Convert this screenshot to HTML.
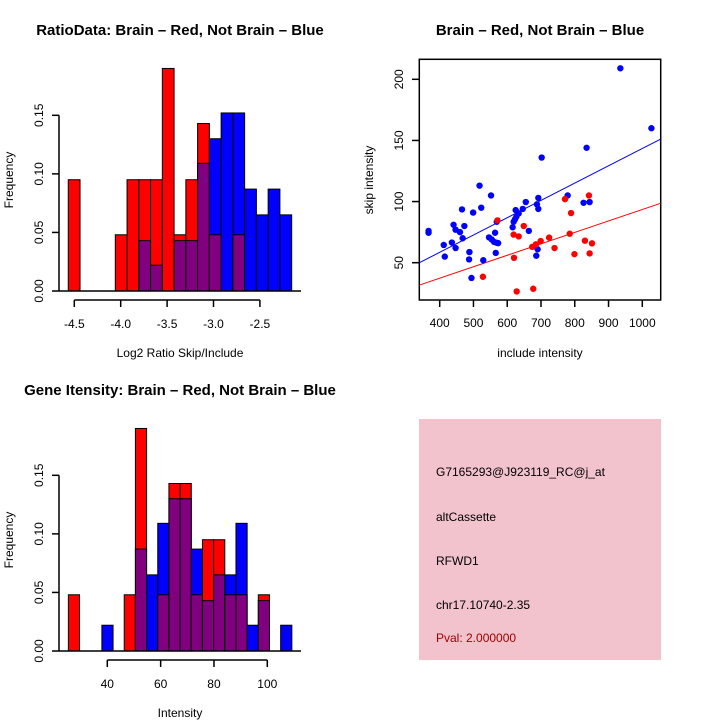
<!DOCTYPE html>
<html><head><meta charset="utf-8">
<style>
html,body{margin:0;padding:0;background:#fff;}
svg{display:block;font-family:"Liberation Sans",sans-serif;}
</style></head>
<body>
<svg id="s" width="720" height="720" viewBox="0 0 720 720">
<rect x="0" y="0" width="720" height="720" fill="#fff"/>
<text x="180" y="35" text-anchor="middle" font-size="15" font-weight="bold">RatioData: Brain – Red, Not Brain – Blue</text>
<text x="540" y="35" text-anchor="middle" font-size="15" font-weight="bold">Brain – Red, Not Brain – Blue</text>
<text x="180" y="395" text-anchor="middle" font-size="15" font-weight="bold">Gene Itensity: Brain – Red, Not Brain – Blue</text>
<text x="180" y="357" text-anchor="middle" font-size="12">Log2 Ratio Skip/Include</text>
<text transform="translate(13,180) rotate(-90)" text-anchor="middle" font-size="12">Frequency</text>
<text x="540" y="357" text-anchor="middle" font-size="12">include intensity</text>
<text transform="translate(373,180) rotate(-90)" text-anchor="middle" font-size="12">skip intensity</text>
<text x="180" y="717" text-anchor="middle" font-size="12">Intensity</text>
<text transform="translate(13,540) rotate(-90)" text-anchor="middle" font-size="12">Frequency</text>
<g>
<rect x="419" y="419" width="242" height="241" fill="#f2c2cd"/>
<text x="436" y="476" font-size="12">G7165293@J923119_RC@j_at</text>
<text x="436" y="521" font-size="12">altCassette</text>
<text x="436" y="565" font-size="12">RFWD1</text>
<text x="436" y="609" font-size="12">chr17.10740-2.35</text>
<text x="436" y="642" font-size="12" fill="#a00000">Pval: 2.000000</text>
</g>
</svg>
<script>
// ---- Ratio histogram data ----
const ratioBinStart = -4.565;
const ratioBinWidth = 0.1267;
const ratioRed = [0.095,0,0,0,0.048,0.095,0.095,0.095,0.19,0.048,0.095,0.143,0.048,0,0.048,0,0,0,0];
const ratioBlue = [0,0,0,0,0,0,0.043,0.022,0,0.043,0.043,0.109,0.130,0.152,0.152,0.087,0.065,0.087,0.065];
const ratioXTicks = [-4.5,-4.0,-3.5,-3.0,-2.5];
const ratioXLabels = ["-4.5","-4.0","-3.5","-3.0","-2.5"];
const freqTicks = [0,0.05,0.10,0.15];
const freqLabels = ["0.00","0.05","0.10","0.15"];
// ---- Intensity histogram data ----
const intBinStart = 25.4;
const intBinWidth = 4.19;
const intRed = [0.048,0,0,0,0,0.048,0.19,0,0.048,0.143,0.143,0.048,0.095,0.095,0.048,0.048,0,0.048,0,0];
const intBlue = [0,0,0,0.022,0,0,0.087,0.065,0.109,0.130,0.130,0.087,0.043,0.065,0.065,0.109,0.022,0.043,0,0.022];
const intXTicks = [40,60,80,100];
const intXLabels = ["40","60","80","100"];
// ---- Scatter data ----
const blueX = [367,367,412,415,436,441,447,447,460,466,468,473,488,487,494,499,518,523,529,552,546,554,561,564,566,569,568,573,616,619,623,625,627,634,646,655,664,688,692,692,690,686,702,779,826,844,835,935,1027];
const blueY = [76,74.5,64.5,55,66.5,81,77,62,75,93.6,70,80,58.7,52.7,37.5,91,113,95,52,105,70.7,69,67,74.5,58,83.5,66.4,66,79,83.5,85.5,93,87.6,90.4,94,99.6,76,97.7,103,94,61,55.7,136,105,99,99.6,144,209,160];
const redX = [571,528,619,620,628,634,649,674,677,685,699,724,740,771,785,789,799,830,842,844,851];
const redY = [84.6,38.5,73,54,26.5,71.5,80,63,28.7,65,67.7,70.5,62,102,73.7,90.6,57,68,105,57.6,65.8];
const blueFit = [1.9,0.1415];
const redFit = [-0.1,0.0936];
const scXTicks = [400,500,600,700,800,900,1000];
const scYTicks = [50,100,150,200];

const NS="http://www.w3.org/2000/svg";
const svg=document.getElementById('s');
function mk(tag,attrs,parent){const e=document.createElementNS(NS,tag);for(const k in attrs)e.setAttribute(k,attrs[k]);(parent||svg).appendChild(e);return e;}

function histogram(name,binStart,binWidth,red,blue,xScale,yScale,xTicks,xLabels,axisY,yAxisX,y0){
  const g=mk('g',{});
  
  
  for(let i=0;i<red.length;i++){
    const x0=xScale(binStart+i*binWidth), x1=xScale(binStart+(i+1)*binWidth);
    const r=red[i], b=blue[i];
    const hi=Math.max(r,b), lo=Math.min(r,b);
    if(hi>0){
      const bar=mk('rect',{x:x0,y:yScale(hi),width:x1-x0,height:yScale(0)-yScale(hi),fill:r>=b?'#ff0000':'#0000ff',stroke:'#000','stroke-width':1},g);
      
      
    }
    if(lo>0){
      const ov=mk('rect',{x:x0,y:yScale(lo),width:x1-x0,height:yScale(0)-yScale(lo),fill:'#800080',stroke:'#000','stroke-width':1},g);
      
      
    }
  }
  const base=mk('line',{x1:yAxisX,x2:301,y1:y0,y2:y0,stroke:'#000','stroke-width':1.5},g);
  
  
  const xa=mk('line',{x1:xScale(xTicks[0]),x2:xScale(xTicks[xTicks.length-1]),y1:axisY,y2:axisY,stroke:'#000','stroke-width':1.5},g);
  
  
  xTicks.forEach((t,i)=>{
    mk('line',{x1:xScale(t),x2:xScale(t),y1:axisY,y2:axisY+7,stroke:'#000','stroke-width':1.5},g);
    const tx=mk('text',{x:xScale(t),y:axisY+28,'text-anchor':'middle','font-size':12},g);
    tx.textContent=xLabels[i];
    
    
  });
  const ya=mk('line',{x1:yAxisX,x2:yAxisX,y1:yScale(0),y2:yScale(freqTicks[freqTicks.length-1]),stroke:'#000','stroke-width':1.5},g);
  
  
  freqTicks.forEach((t,i)=>{
    mk('line',{x1:yAxisX-7,x2:yAxisX,y1:yScale(t),y2:yScale(t),stroke:'#000','stroke-width':1.5},g);
    const tx=mk('text',{transform:'translate('+(yAxisX-16)+','+yScale(t)+') rotate(-90)','text-anchor':'middle','font-size':12},g);
    tx.textContent=freqLabels[i];
    
    
  });
}
const r_x=v=>74.3+(v+4.5)*92.8;
const r_y=v=>291-v*(175.7/0.15);
histogram('ratio-histogram',ratioBinStart,ratioBinWidth,ratioRed,ratioBlue,r_x,r_y,ratioXTicks,ratioXLabels,300,59,291);
const i_x=v=>107.3+(v-40)*(160/60);
const i_y=v=>651-v*(175.7/0.15);
histogram('intensity-histogram',intBinStart,intBinWidth,intRed,intBlue,i_x,i_y,intXTicks,intXLabels,660,59,651);

const s_x=v=>439.7+(v-400)*(202.6/600);
const s_y=v=>262.7-(v-50)*(183.4/150);
const sg=mk('g',{});


const box=mk('rect',{x:419.3,y:59.3,width:241.4,height:240.7,fill:'none',stroke:'#000','stroke-width':1.5},sg);


const clip=mk('clipPath',{id:'scclip'},sg);
mk('rect',{x:419.3,y:59.3,width:241.4,height:240.7},clip);
const xmin=340,xmax=1054;
[[blueFit,'#0000ff','blue-fit-line'],[redFit,'#ff0000','red-fit-line']].forEach(([f,c,n])=>{
  const l=mk('line',{x1:s_x(xmin),y1:s_y(f[0]+f[1]*xmin),x2:s_x(xmax),y2:s_y(f[0]+f[1]*xmax),stroke:c,'stroke-width':1,'clip-path':'url(#scclip)'},sg);
  
  
});
blueX.forEach((x,i)=>{
  const p=mk('circle',{cx:s_x(x),cy:s_y(blueY[i]),r:3.2,fill:'#0000ff'},sg);
  
  
});
redX.forEach((x,i)=>{
  const p=mk('circle',{cx:s_x(x),cy:s_y(redY[i]),r:3.2,fill:'#ff0000'},sg);
  
  
});
scXTicks.forEach(t=>{
  mk('line',{x1:s_x(t),x2:s_x(t),y1:300,y2:307,stroke:'#000','stroke-width':1.5},sg);
  const tx=mk('text',{x:s_x(t),y:327,'text-anchor':'middle','font-size':12},sg);
  tx.textContent=String(t);
  
  
});
scYTicks.forEach(t=>{
  mk('line',{x1:412,x2:419.3,y1:s_y(t),y2:s_y(t),stroke:'#000','stroke-width':1.5},sg);
  const tx=mk('text',{transform:'translate(403,'+s_y(t)+') rotate(-90)','text-anchor':'middle','font-size':12},sg);
  tx.textContent=String(t);
  
  
});
</script>
</body></html>
